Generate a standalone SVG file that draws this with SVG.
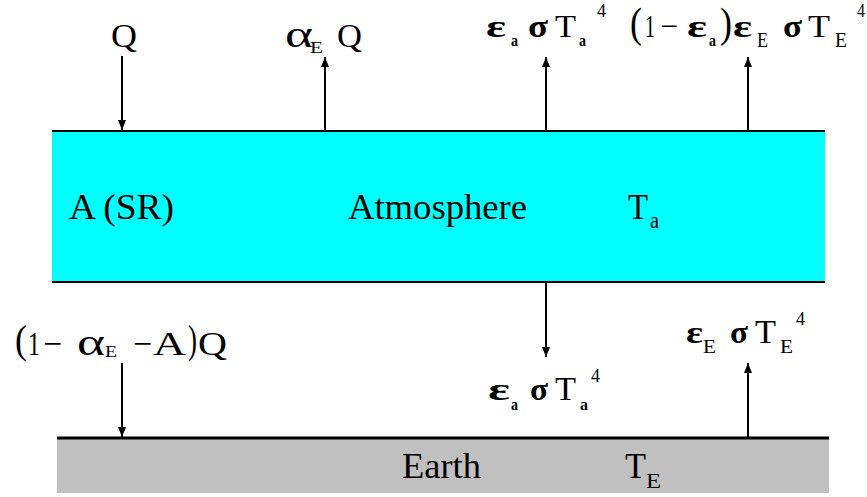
<svg xmlns="http://www.w3.org/2000/svg" width="867" height="497" viewBox="0 0 867 497" font-family="'Liberation Serif', 'DejaVu Serif', 'Times New Roman', serif">
<style>
text{font-family:'Liberation Serif','DejaVu Serif','Times New Roman',serif;fill:#000}
.m{font-size:34px}
.g{font-size:32px;font-weight:bold}
.s{font-size:17px;font-weight:bold}
.e{font-size:19px}
.p{font-size:18px}
.b{font-size:36px}
.c{stroke:#000;stroke-width:2;fill:none;marker-end:url(#ah)}
</style>
<defs>
<marker id="ah" viewBox="0 0 10 8" refX="10" refY="4" markerWidth="10" markerHeight="8" markerUnits="userSpaceOnUse" orient="auto">
<path d="M0,0 L10,4 L0,8 z" fill="#000"/>
</marker>
</defs>
<rect width="867" height="497" fill="#fff"/>
<g id="atmosphere">
<rect x="52" y="131" width="773" height="151" fill="#00FFFF"/>
<line x1="52" y1="131" x2="825" y2="131" stroke="#000" stroke-width="2"/>
<line x1="52" y1="282" x2="825" y2="282" stroke="#000" stroke-width="2"/>
<text class="b" x="69" y="219" textLength="105" lengthAdjust="spacingAndGlyphs">A (SR)</text>
<text class="b" x="348" y="219" textLength="179" lengthAdjust="spacingAndGlyphs">Atmosphere</text>
<text class="b" x="628" y="219" textLength="20" lengthAdjust="spacingAndGlyphs">T</text>
<text x="650" y="228" font-size="24" textLength="9" lengthAdjust="spacingAndGlyphs">a</text>
</g>
<g id="earth">
<rect x="57" y="438" width="772" height="55" fill="#C0C0C0"/>
<line x1="57" y1="438" x2="829" y2="438" stroke="#000" stroke-width="3"/>
<text class="b" x="402" y="478" textLength="79" lengthAdjust="spacingAndGlyphs">Earth</text>
<text class="b" x="625" y="478" textLength="21" lengthAdjust="spacingAndGlyphs">T</text>
<text x="646" y="488" font-size="20" textLength="15" lengthAdjust="spacingAndGlyphs">E</text>
</g>
<g id="connectors">
<line class="c" x1="122" y1="56" x2="122" y2="130"/>
<line class="c" x1="325" y1="130" x2="325" y2="57"/>
<line class="c" x1="546" y1="130" x2="546" y2="57"/>
<line class="c" x1="748" y1="130" x2="748" y2="57"/>
<line class="c" x1="546" y1="282" x2="546" y2="357"/>
<line class="c" x1="122" y1="363" x2="122" y2="437"/>
<line class="c" x1="748" y1="437" x2="748" y2="363"/>
</g>
<g id="label-Q">
<text class="m" x="111" y="47" textLength="26" lengthAdjust="spacingAndGlyphs">Q</text>
</g>
<g id="label-aEQ">
<text x="285" y="47" font-size="38" textLength="28" lengthAdjust="spacingAndGlyphs">α</text>
<text x="310" y="53" font-size="17" textLength="13" lengthAdjust="spacingAndGlyphs">E</text>
<text class="m" x="337" y="47" textLength="25" lengthAdjust="spacingAndGlyphs">Q</text>
</g>
<g id="label-top-eaTa">
<text class="g" x="486" y="37" textLength="20" lengthAdjust="spacingAndGlyphs">ε</text>
<text class="s" x="511" y="46" textLength="7" lengthAdjust="spacingAndGlyphs">a</text>
<text class="g" x="528" y="37" textLength="20" lengthAdjust="spacingAndGlyphs">σ</text>
<text x="555" y="37" font-size="32" textLength="21" lengthAdjust="spacingAndGlyphs">T</text>
<text class="s" x="579" y="46" textLength="7" lengthAdjust="spacingAndGlyphs">a</text>
<text class="p" x="597" y="17" textLength="9" lengthAdjust="spacingAndGlyphs">4</text>
</g>
<g id="label-top-eETE">
<text x="630" y="37" font-size="42" textLength="12" lengthAdjust="spacingAndGlyphs">(</text>
<text x="645" y="37" font-size="32" textLength="10" lengthAdjust="spacingAndGlyphs">1</text>
<text x="660" y="37" font-size="32" textLength="18" lengthAdjust="spacingAndGlyphs">−</text>
<text class="g" x="687" y="37" textLength="20" lengthAdjust="spacingAndGlyphs">ε</text>
<text class="s" x="709" y="46" textLength="7" lengthAdjust="spacingAndGlyphs">a</text>
<text x="720" y="37" font-size="42" textLength="12" lengthAdjust="spacingAndGlyphs">)</text>
<text class="g" x="733" y="37" textLength="19" lengthAdjust="spacingAndGlyphs">ε</text>
<text x="757" y="47" font-size="20" textLength="11" lengthAdjust="spacingAndGlyphs">E</text>
<text class="g" x="783" y="37" textLength="19" lengthAdjust="spacingAndGlyphs">σ</text>
<text x="808" y="37" font-size="32" textLength="22" lengthAdjust="spacingAndGlyphs">T</text>
<text x="835" y="47" font-size="20" textLength="12" lengthAdjust="spacingAndGlyphs">E</text>
<text class="p" x="857" y="17" textLength="8" lengthAdjust="spacingAndGlyphs">4</text>
</g>
<g id="label-bottom-Q">
<text x="15" y="353" font-size="40" textLength="12" lengthAdjust="spacingAndGlyphs">(</text>
<text class="m" x="28" y="355" textLength="12" lengthAdjust="spacingAndGlyphs">1</text>
<text class="m" x="43" y="355" textLength="19" lengthAdjust="spacingAndGlyphs">−</text>
<text x="77" y="355" font-size="38" textLength="28" lengthAdjust="spacingAndGlyphs">α</text>
<text x="105" y="357" font-size="16" textLength="12" lengthAdjust="spacingAndGlyphs">E</text>
<text class="m" x="133" y="355" textLength="19" lengthAdjust="spacingAndGlyphs">−</text>
<text class="m" x="153" y="355" textLength="33" lengthAdjust="spacingAndGlyphs">A</text>
<text x="188" y="353" font-size="40" textLength="9" lengthAdjust="spacingAndGlyphs">)</text>
<text class="m" x="198" y="355" textLength="29" lengthAdjust="spacingAndGlyphs">Q</text>
</g>
<g id="label-bottom-eaTa">
<text class="g" x="488" y="400" textLength="22" lengthAdjust="spacingAndGlyphs">ε</text>
<text class="s" x="511" y="410" textLength="7" lengthAdjust="spacingAndGlyphs">a</text>
<text class="g" x="530" y="400" textLength="18" lengthAdjust="spacingAndGlyphs">σ</text>
<text class="m" x="555" y="400" textLength="21" lengthAdjust="spacingAndGlyphs">T</text>
<text class="s" x="580" y="410" textLength="8" lengthAdjust="spacingAndGlyphs">a</text>
<text class="p" x="591" y="382" textLength="9" lengthAdjust="spacingAndGlyphs">4</text>
</g>
<g id="label-bottom-eETE">
<text class="g" x="686" y="343" textLength="17" lengthAdjust="spacingAndGlyphs">ε</text>
<text class="e" x="703" y="353" textLength="13" lengthAdjust="spacingAndGlyphs">E</text>
<text class="g" x="730" y="343" textLength="18" lengthAdjust="spacingAndGlyphs">σ</text>
<text class="m" x="755" y="343" textLength="21" lengthAdjust="spacingAndGlyphs">T</text>
<text class="e" x="780" y="353" textLength="13" lengthAdjust="spacingAndGlyphs">E</text>
<text class="p" x="796" y="325" textLength="9" lengthAdjust="spacingAndGlyphs">4</text>
</g>
</svg>
